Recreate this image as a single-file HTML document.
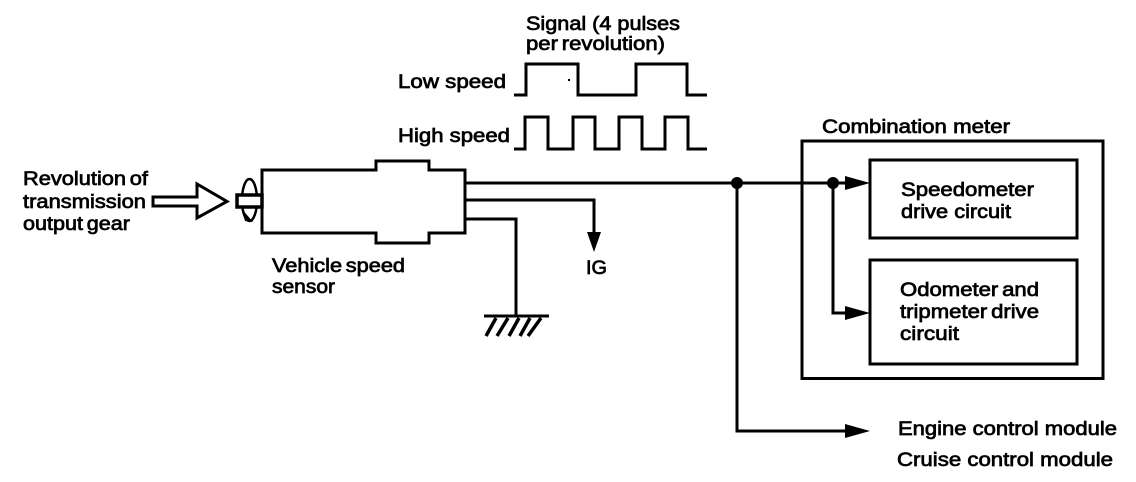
<!DOCTYPE html>
<html>
<head>
<meta charset="utf-8">
<style>
html,body{margin:0;padding:0;background:#fff;}
svg{display:block;}
text{font-family:"Liberation Sans",sans-serif;font-size:19px;fill:#000;stroke:#000;stroke-width:0.7px;}
.t{word-spacing:-2px;}
.l{fill:none;stroke:#000;stroke-width:3;stroke-linejoin:miter;stroke-linecap:butt;}
</style>
</head>
<body>
<svg width="1136" height="482" viewBox="0 0 1136 482" xmlns="http://www.w3.org/2000/svg">
<rect width="1136" height="482" fill="#fff"/>

<!-- Input arrow -->
<path class="l" d="M153 197H197V184L227 201.500L197 218V206H153Z"/>

<!-- Rotation -->
<ellipse cx="249.500" cy="200" rx="7.500" ry="21" fill="none" stroke="#000" stroke-width="2.500"/>
<path d="M241 208L253 222L245 221Z" fill="#000"/>
<rect x="237" y="195" width="25" height="12" fill="#fff" stroke="#000" stroke-width="3.500"/>

<!-- Sensor -->
<path class="l" d="M262 170H376V161H429V170H465V233H429V243H376V233H262Z"/>

<!-- Wires -->
<path class="l" d="M465 183H845"/>
<path class="l" d="M465 200H594V234"/>
<path class="l" d="M465 219H516V316"/>
<path class="l" d="M484 316H549"/>
<path d="M496 318L486 336M508 318L497 336M519 318L509 336M530 318L520 336M541 318L528 336" fill="none" stroke="#000" stroke-width="3.500"/>
<path d="M587 232H601L594 252Z" fill="#000"/>

<!-- Junctions and branches -->
<circle cx="737" cy="183" r="6" fill="#000"/>
<circle cx="833" cy="183" r="6" fill="#000"/>
<path class="l" d="M737 183V431H846"/>
<path class="l" d="M833 183V313H846"/>
<path d="M845 176L870 183L845 190Z" fill="#000"/>
<path d="M845 306L870 313L845 320Z" fill="#000"/>
<path d="M845 424L870 431L845 438Z" fill="#000"/>

<!-- Combination meter -->
<rect class="l" x="802" y="141" width="301" height="237.500"/>
<rect class="l" x="870" y="160" width="207" height="78"/>
<rect class="l" x="870" y="260" width="207" height="104"/>

<!-- Signals -->
<path class="l" d="M514 95H526V64H578V95H636V64H687V95H707"/>
<path class="l" d="M514 149H525V117H548V149H573V117H595V149H619V117H642V149H665V117H688V149H707"/>
<rect x="568" y="79" width="2" height="2" fill="#000"/>

<!-- Labels -->
<text class="t" x="23" y="185" textLength="125" lengthAdjust="spacingAndGlyphs">Revolution of</text>
<text x="23" y="208" textLength="123" lengthAdjust="spacingAndGlyphs">transmission</text>
<text class="t" x="23" y="230" textLength="107" lengthAdjust="spacingAndGlyphs">output gear</text>

<text x="526" y="30" textLength="154" lengthAdjust="spacingAndGlyphs">Signal (4 pulses</text>
<text class="t" x="526" y="50" textLength="139" lengthAdjust="spacingAndGlyphs">per revolution)</text>
<text x="398" y="88" textLength="108" lengthAdjust="spacingAndGlyphs">Low speed</text>
<text x="398" y="142" textLength="112" lengthAdjust="spacingAndGlyphs">High speed</text>

<text class="t" x="272" y="272" textLength="133" lengthAdjust="spacingAndGlyphs">Vehicle speed</text>
<text x="272" y="293" textLength="63" lengthAdjust="spacingAndGlyphs">sensor</text>
<text x="586" y="274" textLength="21" lengthAdjust="spacingAndGlyphs">IG</text>

<text x="822" y="133" textLength="188" lengthAdjust="spacingAndGlyphs">Combination meter</text>
<text x="901" y="196" textLength="133" lengthAdjust="spacingAndGlyphs">Speedometer</text>
<text x="901" y="218" textLength="110" lengthAdjust="spacingAndGlyphs">drive circuit</text>
<text class="t" x="900" y="296" textLength="139" lengthAdjust="spacingAndGlyphs">Odometer and</text>
<text class="t" x="900" y="318" textLength="139" lengthAdjust="spacingAndGlyphs">tripmeter drive</text>
<text x="900" y="340" textLength="59" lengthAdjust="spacingAndGlyphs">circuit</text>

<text x="898" y="435" textLength="219" lengthAdjust="spacingAndGlyphs">Engine control module</text>
<text x="897" y="466" textLength="216" lengthAdjust="spacingAndGlyphs">Cruise control module</text>
</svg>
</body>
</html>
